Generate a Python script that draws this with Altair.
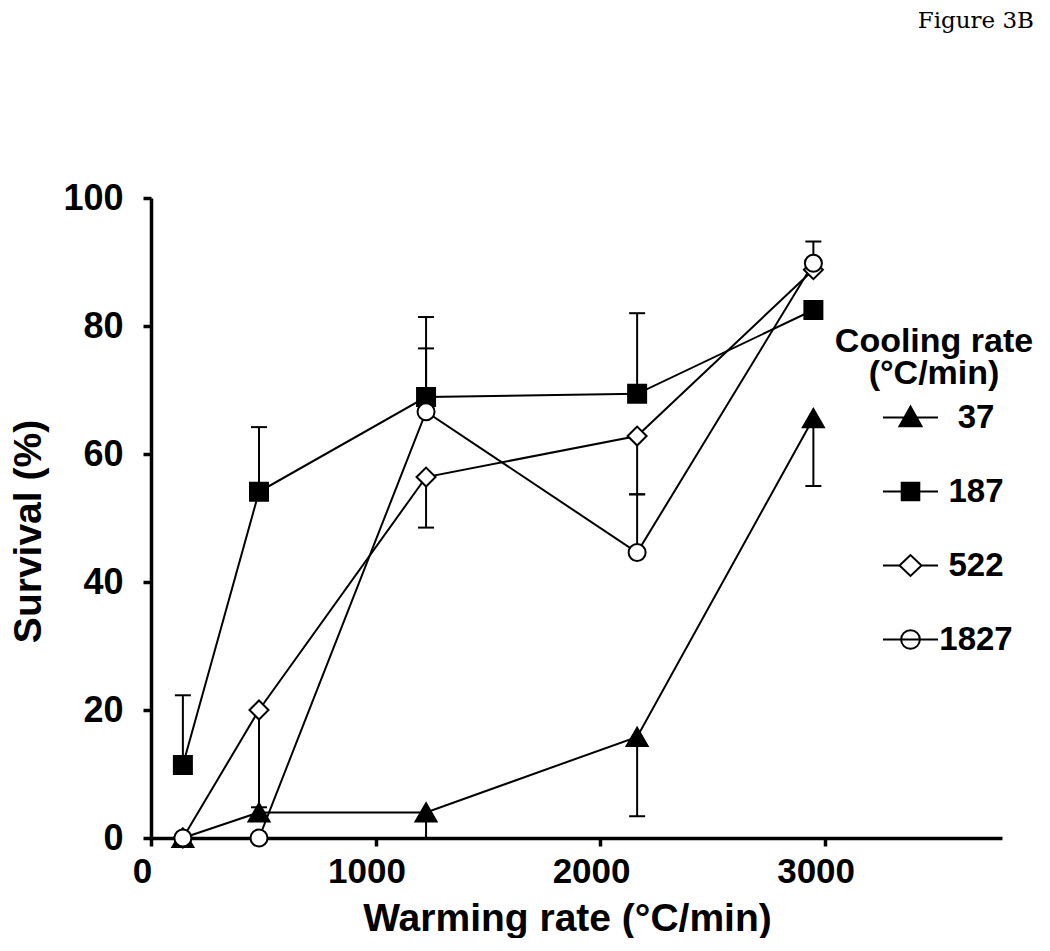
import altair as alt
import pandas as pd

# ---- data ----
warming = [142, 481, 1225, 2165, 2950]
series_names = ["37", "187", "522", "1827"]
surv_37 = [0, 4, 4, 15.8, 65.6]
surv_187 = [11.4, 54.1, 68.9, 69.4, 82.5]
surv_522 = [0, 20, 56.4, 62.8, 88.8]
surv_1827 = [0, 0, 66.6, 44.6, 89.8]

# one-sided error bars: series, warming rate, end value of the bar
err_series = ["37", "37", "37", "187", "187", "187", "187",
              "522", "522", "522", "1827", "1827", "1827"]
err_x = [1225, 2165, 2950, 142, 481, 1225, 2165,
         481, 1225, 2165, 1225, 2165, 2950]
err_end = [0, 3.4, 55.0, 22.3, 64.2, 81.4, 82.0,
           4.8, 48.5, 53.7, 76.5, 53.7, 93.2]

x_ticks = [0, 1000, 2000, 3000]
y_ticks = [0, 20, 40, 60, 80, 100]

marker_shapes = ["triangle-up", "square", "diamond", "circle"]
marker_fills = ["black", "black", "white", "white"]
marker_sizes = [441, 324, 361, 289]

# ---- tables ----
vals = {"37": surv_37, "187": surv_187, "522": surv_522, "1827": surv_1827}
rows = []
for s in series_names:
    for xv, yv in zip(warming, vals[s]):
        rows.append({"series": s, "warming": xv, "survival": yv})
df = pd.DataFrame(rows)

erows = []
for s, xv, ev in zip(err_series, err_x, err_end):
    start = vals[s][warming.index(xv)]
    erows.append({"series": s, "warming": xv, "start": start, "end": ev})
edf = pd.DataFrame(erows)

FONT = "Liberation Sans"

xscale = alt.Scale(domain=[0, 3790], nice=False, zero=True)
yscale = alt.Scale(domain=[0, 100], nice=False)

xax = alt.Axis(values=x_ticks, format="d", title="Warming rate (°C/min)", labelPadding=8,
               labelFontSize=35, labelOffset=-9,
               titleX=416, titleY=92, titleBaseline="alphabetic", titleAlign="center",
               labelFlush=False)
yax = alt.Axis(values=y_ticks, title="Survival (%)", labelPadding=20, labelFontSize=36,
               titleX=-123, titleY=333, titleAngle=270, titleAlign="center",
               titleBaseline="middle")

# legend symbols: marker with a short line through it (custom SVG paths)
legend_paths = [
    "M-2.5,0H2.5M-1,0.8L0,-1L1,0.8Z",
    "M-2.5,0H2.5M-0.8,-0.8H0.8V0.8H-0.8Z",
    "M-2.5,0H-1M1,0H2.5M-1,0L0,-0.95L1,0L0,0.95Z",
    "M-2.5,0H2.5M-0.85,0A0.85,0.85,0,1,1,0.85,0A0.85,0.85,0,1,1,-0.85,0Z",
]

legend = alt.Legend(
    orient="none", legendX=684, legendY=127,
    title=["Cooling rate", "(°C/min)"],
    titleFont=FONT, titleFontSize=34, titleFontWeight="bold", titleColor="black",
    titleAnchor="middle", titleAlign="center", titleLineHeight=32, titlePadding=10,
    titleLimit=400,
    labelFont=FONT, labelFontSize=33, labelFontWeight="bold", labelColor="black",
    labelAlign="center", labelOffset=49, symbolOffset=38, symbolSize=484,
    symbolStrokeColor="black", symbolStrokeWidth=2, symbolOpacity=1,
    rowPadding=40, padding=0,
)

rules = alt.Chart(edf).mark_rule(color="black", strokeWidth=2).encode(
    x=alt.X("warming:Q", scale=xscale, axis=xax),
    y=alt.Y("start:Q", scale=yscale, axis=yax),
    y2="end:Q",
)
caps = alt.Chart(edf).mark_tick(orient="horizontal", color="black", thickness=2, size=16,
                                opacity=1).encode(
    x=alt.X("warming:Q", scale=xscale),
    y=alt.Y("end:Q", scale=yscale),
)
lines = alt.Chart(df).mark_line(color="black", strokeWidth=2).encode(
    x=alt.X("warming:Q", scale=xscale),
    y=alt.Y("survival:Q", scale=yscale),
    detail="series:N",
    order="warming:Q",
)

point_layers = []
for s, shp, fl, sz in zip(series_names, marker_shapes, marker_fills, marker_sizes):
    point_layers.append(
        alt.Chart(df).transform_filter(alt.datum.series == s).mark_point(
            shape=shp, filled=True, fill=fl, stroke="black", strokeWidth=2,
            opacity=1, size=sz).encode(
            x=alt.X("warming:Q", scale=xscale),
            y=alt.Y("survival:Q", scale=yscale),
        )
    )

# legend-only layer (no rows drawn; the legend comes from the scale domain)
legend_layer = alt.Chart(df).transform_filter("false").mark_point(
    filled=True, strokeWidth=2, opacity=1, size=484).encode(
    x=alt.X("warming:Q", scale=xscale),
    y=alt.Y("survival:Q", scale=yscale),
    shape=alt.Shape("series:N",
                    scale=alt.Scale(domain=series_names, range=legend_paths),
                    legend=legend),
    fill=alt.Fill("series:N",
                  scale=alt.Scale(domain=series_names, range=marker_fills),
                  legend=legend),
    stroke=alt.Stroke("series:N",
                      scale=alt.Scale(domain=series_names,
                                      range=["black", "black", "black", "black"]),
                      legend=legend),
)

chart = alt.layer(rules, caps, lines, *point_layers, legend_layer).properties(
    width=851, height=640,
    padding={"left": 143, "top": 190, "right": 40, "bottom": 100},
    autosize=alt.AutoSizeParams(type="none"),
    title=alt.TitleParams("Figure 3B", anchor="end", orient="top", font="DejaVu Serif",
                          fontSize=23, fontWeight="normal", color="black", offset=129,
                          dx=0, baseline="alphabetic"),
).configure_view(stroke=None).configure_axis(
    domainColor="black", domainWidth=3.5, tickColor="black", tickWidth=3.5, tickSize=8,
    grid=False, labelFont=FONT, labelFontWeight="bold", labelColor="black",
    titleFont=FONT, titleFontSize=39, titleFontWeight="bold", titleColor="black",
)

chart.save("out.html", embed_options={"renderer": "svg", "actions": False})
